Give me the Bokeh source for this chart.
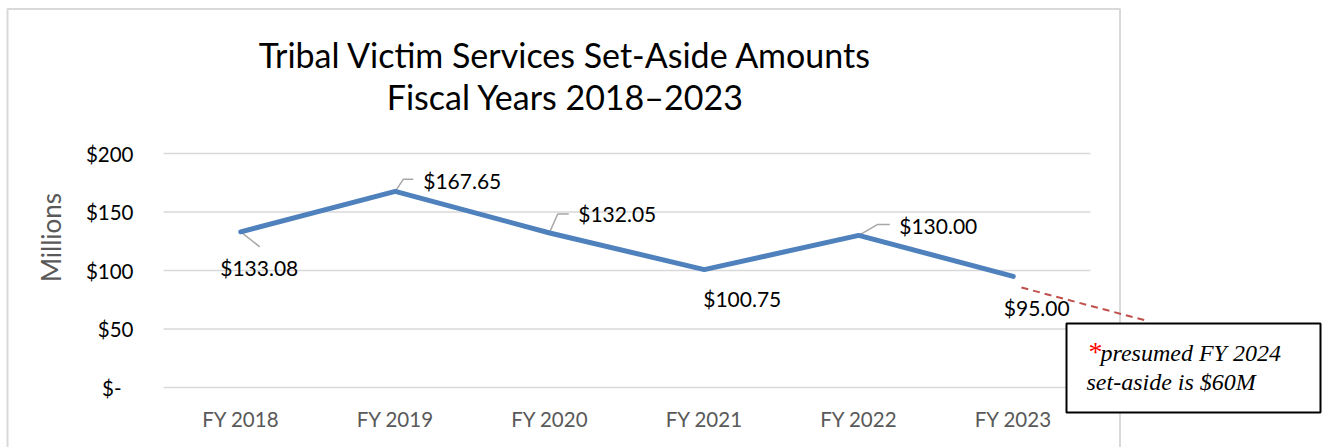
import math
from bokeh.plotting import figure
from bokeh.models import Range1d, BoxAnnotation, ColumnDataSource
from bokeh.core.properties import value
from bokeh.embed import file_html
from bokeh.resources import INLINE

# ---------------- data ----------------
categories = ["FY 2018", "FY 2019", "FY 2020", "FY 2021", "FY 2022", "FY 2023"]
amounts = [133.08, 167.65, 132.05, 100.75, 130.00, 95.00]
presumed_fy2024 = 60.0
y_ticks = [0, 50, 100, 150, 200]
y_tick_labels = ["$-\u2007", "$50", "$100", "$150", "$200"]
title_lines = ["Tribal Victim Services Set-Aside Amounts", "Fiscal Years 2018\u20132023"]
y_label = "Millions"
note_lines = ["presumed FY 2024", "set-aside is $60M"]

# ---------------- layout (page pixels) ----------------
W, H = 1325, 447
PLOT_LEFT = 163     # pixel of left edge of the category band
XPX = 154.5         # pixels per category
ZERO_Y = 387        # pixel of $0
YPX = 1.17          # pixels per $1M


def dx(px):
    return (px - PLOT_LEFT) / XPX - 0.5


def dy(py):
    return (ZERO_Y - py) / YPX


FONT = "Lato"
SERIF = "Liberation Serif"
BLUE = "#4F81BD"

p = figure(width=W, height=H, output_backend="svg", toolbar_location=None,
           x_range=Range1d(dx(0), dx(W)), y_range=Range1d(dy(H), dy(0)),
           x_axis_type=None, y_axis_type=None,
           min_border_left=0, min_border_right=0, min_border_top=0, min_border_bottom=0)
p.outline_line_color = None
p.xgrid.visible = False
p.ygrid.visible = False
p.background_fill_color = "white"
p.border_fill_color = "white"

xs = list(range(len(categories)))
x_lo, x_hi = -0.5, len(categories) - 0.5

# chart-area border
p.add_layout(BoxAnnotation(left=7, right=1119.5, top=8.5, bottom=H + 20,
                           left_units="canvas", right_units="canvas",
                           top_units="canvas", bottom_units="canvas",
                           fill_color=None, fill_alpha=0, line_color="#d9d9d9",
                           line_alpha=1, line_width=2, level="underlay"))

# gridlines
p.segment(x0=[x_lo] * len(y_ticks), x1=[x_hi] * len(y_ticks), y0=y_ticks, y1=y_ticks,
          line_color="#d9d9d9", line_width=1.5)

# y tick labels
p.text(x=[x_lo] * len(y_ticks), y=y_ticks, text=y_tick_labels, x_offset=-30,
       text_align="right", text_baseline="middle",
       text_font=value(FONT), text_font_size="20.5px", text_color="black")
# x tick labels
p.text(x=xs, y=[0] * len(xs), text=categories, y_offset=31,
       text_align="center", text_baseline="middle",
       text_font=value(FONT), text_font_size="20.5px", text_color="#595959")

# projection connector (FY 2023 -> presumed FY 2024), dashed
x_last, y_last = xs[-1], amounts[-1]
t0, t1 = 0.053, 0.869
shift = -9 / YPX
p.line(x=[x_last + t0, x_last + t1],
       y=[y_last + (presumed_fy2024 - y_last) * t0 + shift,
          y_last + (presumed_fy2024 - y_last) * t1 + shift],
       line_color="#C0504D", line_width=2, line_dash="7 5")

# leader lines (pixel offsets relative to point)
leaders = {
    0: [(0, 0), (19, 15)],
    1: [(0, 0), (8, -12), (18, -12)],
    2: [(0, -1), (8, -19), (19, -19)],
    4: [(0, 0), (19, -11), (31, -11)],
}
lx, ly = [], []
for i, pts in leaders.items():
    lx.append([xs[i] + ox / XPX for ox, oy in pts])
    ly.append([amounts[i] - oy / YPX for ox, oy in pts])
p.multi_line(xs=lx, ys=ly, line_color="#a6a6a6", line_width=1.5)

# main line
p.line(x=xs, y=amounts, line_color=BLUE, line_width=5, line_cap="round", line_join="round")

# data labels
lab_dx = [18.5, 67, 67.5, 38, 79.5, 23.5]
lab_dy = [36, -11, -19.5, 29, -10, 31]
src = ColumnDataSource(dict(x=xs, y=amounts, text=["$%.2f" % v for v in amounts],
                            dx=lab_dx, dy=lab_dy))
p.text(x="x", y="y", text="text", x_offset="dx", y_offset="dy", source=src,
       text_align="center", text_baseline="middle",
       text_font=value(FONT), text_font_size="21px", text_color="black")

# title
p.text(x=[dx(565)] * 2, y=[dy(53.5), dy(95.5)], text=title_lines,
       text_align="center", text_baseline="middle",
       text_font=value(FONT), text_font_size="34px", text_color="black")

# y-axis label
p.text(x=[dx(50)], y=[dy(237)], text=[y_label], angle=math.pi / 2,
       text_align="center", text_baseline="middle",
       text_font=value(FONT), text_font_size="26px", text_color="#595959")

# note box (drawn over gridlines and border)
p.quad(left=[dx(1066)], right=[dx(1320)], top=[dy(323)], bottom=[dy(412)],
       fill_color="white", line_color="black", line_width=2)

# note text
p.text(x=[dx(1088)], y=[dy(351)], text=["*"], text_align="left", text_baseline="middle",
       text_font=value(SERIF), text_font_size="28px", text_color="#FF0000")
p.text(x=[dx(1100), dx(1086)], y=[dy(352), dy(381)], text=note_lines,
       text_align="left", text_baseline="middle",
       text_font=value(SERIF), text_font_style="italic",
       text_font_size="24px", text_color="black")

open("out.html", "w").write(file_html(p, INLINE))
